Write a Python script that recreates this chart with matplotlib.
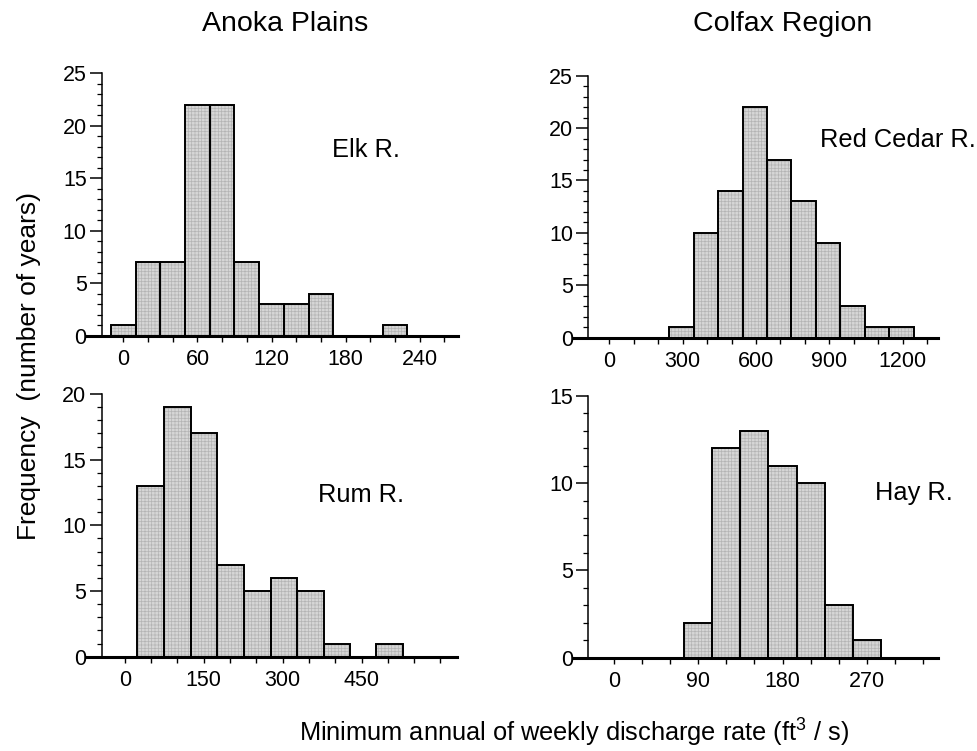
import matplotlib
matplotlib.use("Agg")
import matplotlib.pyplot as plt
from matplotlib.ticker import MultipleLocator, FixedLocator
import numpy as np

plt.rcParams['font.family'] = ['Liberation Sans', 'DejaVu Sans']
plt.rcParams['mathtext.fontset'] = 'custom'
plt.rcParams['mathtext.rm'] = 'Liberation Sans'
plt.rcParams['mathtext.it'] = 'Liberation Sans'
plt.rcParams['hatch.linewidth'] = 0.5

# ---- data ----
elk_edges = [-10, 10, 30, 50, 70, 90, 110, 130, 150, 170, 190, 210, 230]
elk_counts = [1, 7, 7, 22, 22, 7, 3, 3, 4, 0, 0, 1]

red_edges = [245, 345, 445, 545, 645, 745, 845, 945, 1045, 1145, 1245]
red_counts = [1, 10, 14, 22, 17, 13, 9, 3, 1, 1]

rum_edges = [24, 75, 125, 176, 226, 277, 327, 378, 428, 478, 529]
rum_counts = [13, 19, 17, 7, 5, 6, 5, 1, 0, 1]

hay_edges = [75, 105, 135, 165, 195, 225, 255, 285]
hay_counts = [2, 12, 13, 11, 10, 3, 1]

titles = ["Anoka Plains", "Colfax Region"]
names = ["Elk R.", "Red Cedar R.", "Rum R.", "Hay R."]
xlabel = "Minimum annual of weekly discharge rate (ft$^3$ / s)"
ylabel = "Frequency  (number of years)"

W, H = 977, 751
fig = plt.figure(figsize=(W / 100, H / 100), dpi=100)

def rect(x0, x1, ytop, ybase):
    return [x0 / W, 1 - ybase / H, (x1 - x0) / W, (ybase - ytop) / H]

panels = [
    dict(edges=elk_edges, counts=elk_counts, rect=rect(102, 458, 73, 336),
         xlim=(-17.3, 271), ylim=25, major=FixedLocator([0, 60, 120, 180, 240]),
         minor=20, name=names[0], tpos=(0.645, 0.707)),
    dict(edges=red_edges, counts=red_counts, rect=rect(588.3, 938.3, 75.7, 337.7),
         xlim=(-86, 1346), ylim=25, major=FixedLocator([0, 300, 600, 900, 1200]),
         minor=100, name=names[1], tpos=(0.662, 0.755)),
    dict(edges=rum_edges, counts=rum_counts, rect=rect(101.7, 457.3, 394, 656.7),
         xlim=(-44, 632), ylim=20, major=FixedLocator([0, 150, 300, 450]),
         minor=50, name=names[2], tpos=(0.609, 0.616)),
    dict(edges=hay_edges, counts=hay_counts, rect=rect(588.3, 938.3, 395.7, 657.7),
         xlim=(-27.8, 346.7), ylim=15, major=FixedLocator([0, 90, 180, 270]),
         minor=30, name=names[3], tpos=(0.819, 0.629)),
]

for p in panels:
    ax = fig.add_axes(p['rect'])
    e = np.array(p['edges'], dtype=float)
    c = np.array(p['counts'], dtype=float)
    widths = np.diff(e)
    # patterned fill
    ax.bar(e[:-1], c, width=widths, align='edge', color='#d6d6d6',
           edgecolor='#b4b4b4', linewidth=0, hatch='+++++', zorder=2)
    # outlines
    ax.bar(e[:-1], c, width=widths, align='edge', fill=False,
           edgecolor='black', linewidth=1.4, zorder=3)
    x0, x1 = p['xlim']
    ax.set_xlim(x0, x1)
    ax.set_ylim(0, p['ylim'])
    for s in ['top', 'right']:
        ax.spines[s].set_visible(False)
    ax.spines['left'].set_linewidth(1.1)
    ax.spines['bottom'].set_linewidth(2.2)
    ax.spines['bottom'].set_zorder(4)
    # baseline runs a little to the left of the y axis
    w_px = p['rect'][2] * W
    ext = 15 * (x1 - x0) / w_px
    ax.spines['bottom'].set_bounds(x0 - ext, x1)
    ax.xaxis.set_major_locator(p['major'])
    ax.xaxis.set_minor_locator(MultipleLocator(p['minor']))
    ax.yaxis.set_major_locator(MultipleLocator(5))
    ax.yaxis.set_minor_locator(MultipleLocator(1))
    ax.tick_params(axis='x', which='both', direction='out', length=4.5, width=1.0,
                   labelsize=15.5, pad=5)
    ax.tick_params(axis='y', which='major', direction='out', length=9, width=1.1,
                   labelsize=15.5, pad=2)
    ax.tick_params(axis='y', which='minor', direction='out', length=3.5, width=0.9)
    ax.patch.set_visible(False)
    ax.text(p['tpos'][0], p['tpos'][1], p['name'], transform=ax.transAxes,
            ha='left', va='center', fontsize=18.3)

fig.text(285 / W, 1 - 24 / H, titles[0], ha='center', va='center', fontsize=20.5)
fig.text(783 / W, 1 - 24 / H, titles[1], ha='center', va='center', fontsize=20.5)
fig.text(29 / W, 1 - 366 / H, ylabel, ha='center', va='center', rotation=90,
         fontsize=19)
fig.text(574 / W, 1 - 733 / H, xlabel, ha='center', va='center', fontsize=18.3)

fig.savefig('out.png', dpi=100)
